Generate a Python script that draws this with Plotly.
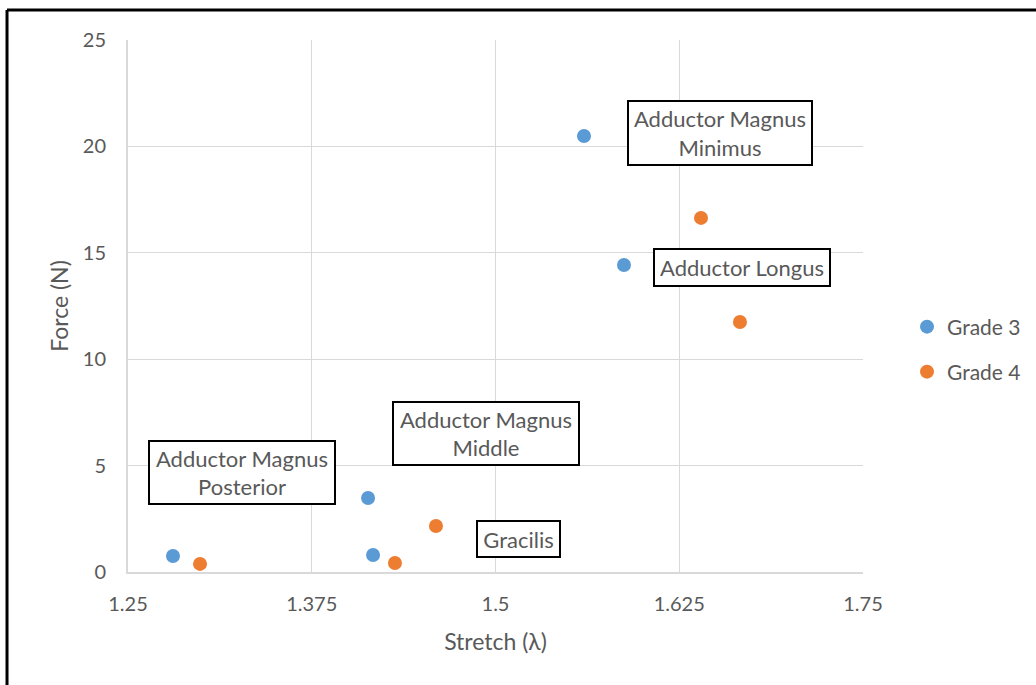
import plotly.graph_objects as go

# Stretch / force measurements per tissue grade
grade3_stretch = [1.2806, 1.4133, 1.4167, 1.5602, 1.5874]
grade3_force = [0.75, 3.48, 0.80, 20.49, 14.43]

grade4_stretch = [1.2990, 1.4316, 1.4595, 1.6398, 1.6663]
grade4_force = [0.38, 0.42, 2.16, 16.64, 11.75]

muscle_labels = [
    "Adductor Magnus<br>Minimus",
    "Adductor Longus",
    "Adductor Magnus<br>Middle",
    "Adductor Magnus<br>Posterior",
    "Gracilis",
]
# label box placement (data coords) and size (px)
label_pos = [(1.6527, 20.63), (1.6677, 14.31), (1.4935, 6.51), (1.3276, 4.68), (1.5157, 1.55)]
label_size = [(182, 62), (174, 35), (184, 61), (184, 61), (81, 34)]

x_ticks = [1.25, 1.375, 1.5, 1.625, 1.75]
y_ticks = [0, 5, 10, 15, 20, 25]

FONT = "Lato"
GRAY = "#595959"
GRID = "#d9d9d9"

fig = go.Figure()
fig.add_trace(go.Scatter(
    x=grade3_stretch, y=grade3_force, mode="markers", name="Grade 3",
    marker=dict(color="#5B9BD5", size=14), legend="legend"))
fig.add_trace(go.Scatter(
    x=grade4_stretch, y=grade4_force, mode="markers", name="Grade 4",
    marker=dict(color="#ED7D31", size=14), legend="legend2"))

for text, (lx, ly), (w, h) in zip(muscle_labels, label_pos, label_size):
    fig.add_annotation(
        x=lx, y=ly, xref="x", yref="y", text=text, showarrow=False,
        width=w, height=h, bordercolor="black", borderwidth=2, borderpad=0,
        bgcolor="white", font=dict(family=FONT, size=22, color=GRAY),
        align="center", valign="middle")

# outer frame of the chart area (left and top edges)
fig.add_shape(type="line", xref="paper", yref="paper",
              x0=-0.1646, x1=-0.1646, y0=-0.3, y1=1.0565,
              line=dict(color="black", width=3))
fig.add_shape(type="line", xref="paper", yref="paper",
              x0=-0.1646, x1=1.3, y0=1.0565, y1=1.0565,
              line=dict(color="black", width=3))

legend_common = dict(xanchor="left", yanchor="middle", bgcolor="rgba(0,0,0,0)",
                     font=dict(family=FONT, size=21, color=GRAY),
                     itemwidth=30, tracegroupgap=0)
fig.update_layout(
    width=1036, height=685,
    margin=dict(l=128, r=173, t=40, b=113, autoexpand=False),
    paper_bgcolor="white", plot_bgcolor="white",
    font=dict(family=FONT, color=GRAY),
    showlegend=True,
    legend=dict(x=(907 - 128) / 735, y=(572 - 327) / 532, **legend_common),
    legend2=dict(x=(907 - 128) / 735, y=(572 - 372) / 532, **legend_common),
    xaxis=dict(
        range=[1.25, 1.75], tickvals=x_ticks,
        ticktext=[f"{v:g}" for v in x_ticks],
        showgrid=True, gridcolor=GRID, gridwidth=1,
        showline=True, linecolor=GRID, linewidth=2, zeroline=False,
        ticks="", ticklabelstandoff=13,
        tickfont=dict(family=FONT, size=20, color=GRAY),
        title=dict(text="Stretch (λ)", standoff=20,
                   font=dict(family=FONT, size=23, color=GRAY))),
    yaxis=dict(
        range=[0, 25], tickvals=y_ticks,
        showgrid=True, gridcolor=GRID, gridwidth=1,
        showline=True, linecolor=GRID, linewidth=2, zeroline=False,
        ticks="", ticklabelstandoff=16,
        tickfont=dict(family=FONT, size=20, color=GRAY),
        title=dict(text="Force (N)", standoff=8,
                   font=dict(family=FONT, size=23, color=GRAY))),
)

fig.write_html("out.html")
